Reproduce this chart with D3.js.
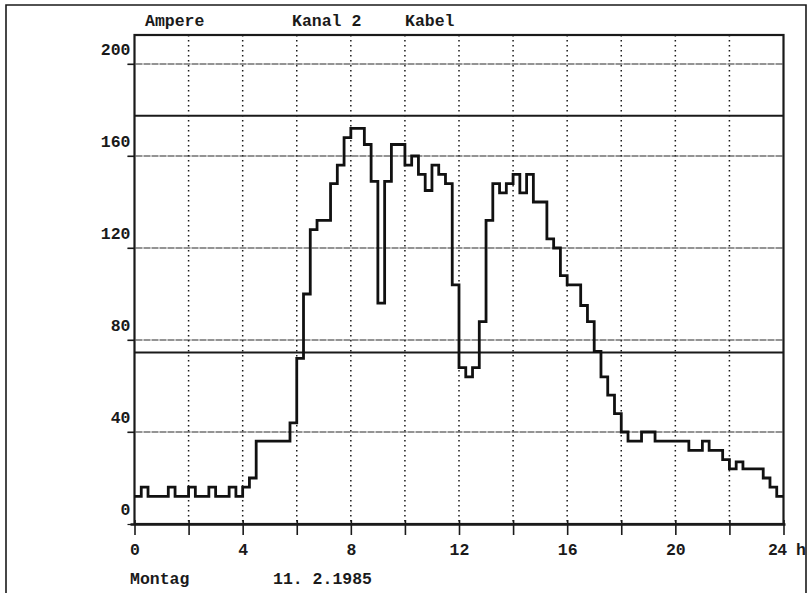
<!DOCTYPE html>
<html>
<head>
<meta charset="utf-8">
<script src="https://cdn.jsdelivr.net/npm/d3@7"></script>
<style>
  html, body { margin: 0; padding: 0; background: #fff; }
  svg { display: block; }
  text { font-family: "Liberation Mono", "DejaVu Sans Mono", monospace; font-size: 16.5px; font-weight: bold; fill: #1a1a1a; }
</style>
</head>
<body>
<svg id="chart" width="810" height="593"></svg>
<script>
// ---- data (15-minute steps, Ampere) ----
const stepHours = 0.25;
const current = [
  12, 16, 12, 12, 12, 16, 12, 12, 16, 12, 12, 16, 12, 12, 16, 12,   // 0-4 h
  16, 20, 36, 36, 36, 36, 36, 44, 72, 100, 128, 132, 132, 148, 156, 168, // 4-8 h
  172, 172, 165, 149, 96, 149, 165, 165, 156, 160, 152, 145, 156, 152, 148, 104, // 8-12 h
  68, 64, 68, 88, 132, 148, 144, 148, 152, 144, 152, 140, 140, 124, 120, 108, // 12-16 h
  104, 104, 95, 88, 75, 64, 56, 48, 40, 36, 36, 40, 40, 36, 36, 36, // 16-20 h
  36, 36, 32, 32, 36, 32, 32, 28, 24, 27, 24, 24, 24, 20, 16, 12   // 20-24 h
];
const yTicks = [0, 40, 80, 120, 160, 200];
const xGridTicks = [0, 2, 4, 6, 8, 10, 12, 14, 16, 18, 20, 22, 24];
const xLabelTicks = [0, 4, 8, 12, 16, 20, 24];
const limitLines = [177.5, 74.6];
const titleTexts = ["Ampere", "Kanal 2", "Kabel"];
const footerTexts = ["Montag", "11. 2.1985"];

// ---- layout ----
const svg = d3.select("#chart");
const pLeft = 134.5, pRight = 783.5, pTop = 35, pBottom = 524;
const x = d3.scaleLinear().domain([0, 24]).range([pLeft, pRight]);
const y = d3.scaleLinear().domain([0, 200]).range([pBottom, 64]);
const ink = "#1a1a1a";

// outer frame
svg.append("path")
  .attr("d", "M6,593 L6,5 L806,5 L806,593")
  .attr("fill", "none").attr("stroke", ink).attr("stroke-width", 1.6);

// vertical dotted grid
svg.append("g").selectAll("line")
  .data(xGridTicks.filter(d => d > 0 && d < 24))
  .join("line")
  .attr("x1", d => x(d)).attr("x2", d => x(d))
  .attr("y1", pTop).attr("y2", pBottom)
  .attr("stroke", ink).attr("stroke-width", 1.5)
  .attr("stroke-dasharray", "1.5,3.5");

// horizontal grid (fine dashes) extending left of axis as ticks
svg.append("g").selectAll("line")
  .data(yTicks.filter(d => d > 0))
  .join("line")
  .attr("x1", pLeft - 7).attr("x2", pRight)
  .attr("y1", d => y(d)).attr("y2", d => y(d))
  .attr("stroke", "#2a2a2a").attr("stroke-width", 1.2)
  .attr("stroke-dasharray", "7,1");

// limit lines (solid, heavier)
svg.append("g").selectAll("line")
  .data(limitLines)
  .join("line")
  .attr("x1", pLeft).attr("x2", pRight)
  .attr("y1", d => y(d)).attr("y2", d => y(d))
  .attr("stroke", ink).attr("stroke-width", 2);

// plot box
svg.append("rect")
  .attr("x", pLeft).attr("y", pTop)
  .attr("width", pRight - pLeft).attr("height", pBottom - pTop)
  .attr("fill", "none").attr("stroke", ink).attr("stroke-width", 2.2);

// y axis labels
const yAxis = d3.axisLeft(y).tickValues(yTicks).tickSize(7).tickSizeOuter(0).tickFormat(d3.format("d"));
const gy = svg.append("g").attr("transform", `translate(${pLeft},0)`).call(yAxis);
gy.attr("font-size", null).attr("font-family", null);
gy.select(".domain").remove();
gy.selectAll(".tick line").attr("stroke", ink).attr("stroke-width", 1.2);
gy.selectAll(".tick text").attr("x", -4).attr("dy", "-0.55em").attr("fill", ink);

// x axis
const xAxis = d3.axisBottom(x).tickValues(xGridTicks).tickSizeOuter(0)
  .tickSize(11)
  .tickFormat(d => xLabelTicks.includes(d) ? (d === 24 ? "24 h" : String(d)) : "");
const gx = svg.append("g").attr("transform", `translate(0,${pBottom})`).call(xAxis);
gx.attr("font-size", null).attr("font-family", null);
gx.select(".domain").attr("stroke", ink).attr("stroke-width", 2.4)
  .attr("d", `M${pLeft - 4},0.5H${pRight + 2}`);
gx.selectAll(".tick line").attr("stroke", ink).attr("stroke-width", 1.6).attr("y1", -4);
gx.selectAll(".tick text").attr("y", 19).attr("dy", "0.71em").attr("fill", ink);
gx.selectAll(".tick text").filter(d => d === 24)
  .attr("text-anchor", "start").attr("x", -16).attr("letter-spacing", "-0.6px");

// data line
const pts = current.map((v, i) => [i * stepHours, v]);
pts.push([24, current[current.length - 1]]);
const line = d3.line().x(d => x(d[0])).y(d => y(d[1])).curve(d3.curveStepAfter);
svg.append("path")
  .datum(pts)
  .attr("d", line)
  .attr("fill", "none").attr("stroke", "#111").attr("stroke-width", 2.8)
  .attr("stroke-linejoin", "miter");

// titles
const titleX = [145, 292, 405];
svg.append("g").selectAll("text").data(titleTexts).join("text")
  .attr("x", (d, i) => titleX[i]).attr("y", 26).text(d => d);

// footer
const footX = [130, 273];
svg.append("g").selectAll("text").data(footerTexts).join("text")
  .attr("x", (d, i) => footX[i]).attr("y", 584).text(d => d);
</script>
</body>
</html>
